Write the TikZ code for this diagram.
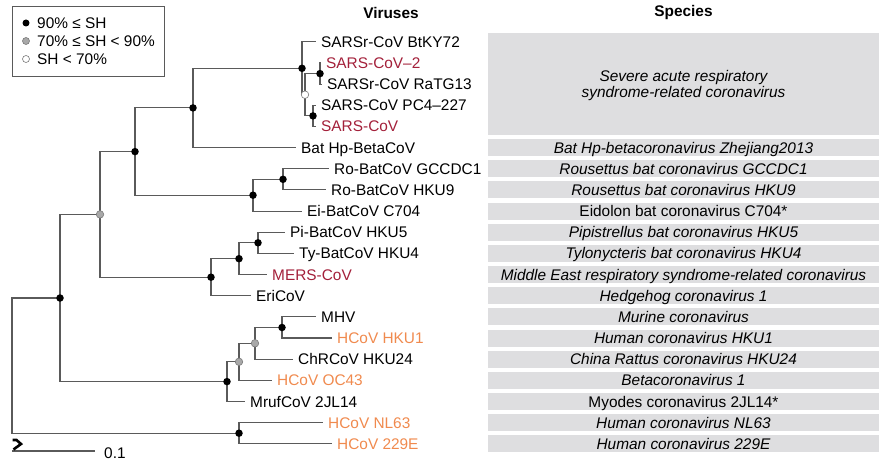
\documentclass[tikz,border=0pt]{standalone}
\usepackage{fontspec}
\setmainfont{Liberation Sans}
\usetikzlibrary{calc}
\definecolor{treeline}{HTML}{5A5A5A}
\definecolor{boxgray}{HTML}{DEDEE0}
\definecolor{sarsred}{HTML}{A3203A}
\definecolor{hcovorange}{HTML}{F08A4E}
\definecolor{midgray}{HTML}{A8A8A8}
\definecolor{rimgray}{HTML}{7A7A7A}
\tikzset{
  tree/.style={draw=treeline, line width=1.1pt},
  leaf/.style={anchor=west, inner sep=0pt, font=\fontsize{15.4}{18}\selectfont, text height=11pt, text depth=0pt},
  spbox/.style={fill=boxgray, minimum width=391pt, minimum height=17pt, inner sep=0pt, font=\fontsize{15.4}{18}\selectfont\itshape, text height=11pt, text depth=0pt},
  head/.style={font=\fontsize{15.4}{18}\selectfont\bfseries, inner sep=0pt},
  bdot/.style={circle, fill=black, inner sep=0pt, minimum size=7.5pt},
  gdot/.style={circle, fill=midgray, draw=rimgray, line width=0.6pt, inner sep=0pt, minimum size=7.5pt},
  wdot/.style={circle, fill=white, draw=rimgray, line width=0.6pt, inner sep=0pt, minimum size=7.5pt},
  legtext/.style={anchor=west, inner sep=0pt, font=\fontsize{15.4}{18}\selectfont, text height=11pt, text depth=0pt},
}
\begin{document}
\begin{tikzpicture}[x=1pt,y=-1pt]
\useasboundingbox (0,0) rectangle (892,468);

% headers
\node[head] (hv) at (391,13) {Viruses};
\node[head] (hs) at (683.5,13) {Species};

% species boxes
\node[spbox, minimum height=101.6pt] (s0) at (683.5,84.1) {\begin{tabular}{@{}c@{}}Severe acute respiratory\\[-2pt] syndrome-related coronavirus\end{tabular}};
\node[spbox] (s5) at (683.5,147.6) {Bat Hp-betacoronavirus Zhejiang2013};
\node[spbox] (s6) at (683.5,168.8) {Rousettus bat coronavirus GCCDC1};
\node[spbox] (s7) at (683.5,189.9) {Rousettus bat coronavirus HKU9};
\node[spbox, font=\fontsize{15.4}{18}\selectfont\upshape] (s8) at (683.5,211.1) {Eidolon bat coronavirus C704*};
\node[spbox] (s9) at (683.5,232.2) {Pipistrellus bat coronavirus HKU5};
\node[spbox] (s10) at (683.5,253.4) {Tylonycteris bat coronavirus HKU4};
\node[spbox] (s11) at (683.5,274.6) {Middle East respiratory syndrome-related coronavirus};
\node[spbox] (s12) at (683.5,295.7) {Hedgehog coronavirus 1};
\node[spbox] (s13) at (683.5,316.9) {Murine coronavirus};
\node[spbox] (s14) at (683.5,338.0) {Human coronavirus HKU1};
\node[spbox] (s15) at (683.5,359.2) {China Rattus coronavirus HKU24};
\node[spbox] (s16) at (683.5,380.4) {Betacoronavirus 1};
\node[spbox, font=\fontsize{15.4}{18}\selectfont\upshape] (s17) at (683.5,401.5) {Myodes coronavirus 2JL14*};
\node[spbox] (s18) at (683.5,422.7) {Human coronavirus NL63};
\node[spbox] (s19) at (683.5,443.8) {Human coronavirus 229E};

% internal nodes
\coordinate (nA) at (302,68.3);
\coordinate (nB) at (305,94.7);
\coordinate (nC) at (320,73.6);
\coordinate (nD) at (313,115.9);
\coordinate (nE) at (193,107.9);
\coordinate (nF) at (283,179.3);
\coordinate (nG) at (253,195.2);
\coordinate (nH) at (135,151.6);
\coordinate (nI) at (258,242.8);
\coordinate (nJ) at (239,258.7);
\coordinate (nK) at (211,277.2);
\coordinate (nL) at (100,214.4);
\coordinate (nM) at (282,327.5);
\coordinate (nN) at (255,343.3);
\coordinate (nO) at (239,361.8);
\coordinate (nP) at (227,381.6);
\coordinate (nQ) at (60,298);
\coordinate (nR) at (239,433.2);
\coordinate (nRoot) at (12,365.6);

% leaf ends
\coordinate (l0) at (316,41.8);
\coordinate (l1) at (321,63.0);
\coordinate (l2) at (322,84.1);
\coordinate (l3) at (316,105.3);
\coordinate (l4) at (316,126.4);
\coordinate (l5) at (296,147.6);
\coordinate (l6) at (329,168.8);
\coordinate (l7) at (326,189.9);
\coordinate (l8) at (302,211.1);
\coordinate (l9) at (285,232.2);
\coordinate (l10) at (294,253.4);
\coordinate (l11) at (267,274.6);
\coordinate (l12) at (251,295.7);
\coordinate (l13) at (316,316.9);
\coordinate (l14) at (332,338.0);
\coordinate (l15) at (293,359.2);
\coordinate (l16) at (272,380.4);
\coordinate (l17) at (245,401.5);
\coordinate (l18) at (323,422.7);
\coordinate (l19) at (332,443.8);

% branches
\draw[tree] (nA) |- (l0) (nA) |- (nB) (nB) |- (nC) (nB) |- (nD)
  (nC) |- (l1) (nC) |- (l2) (nD) |- (l3) (nD) |- (l4)
  (nE) |- (nA) (nE) |- (l5) (nH) |- (nE) (nH) |- (nG)
  (nG) |- (nF) (nG) |- (l8) (nF) |- (l6) (nF) |- (l7)
  (nL) |- (nH) (nL) |- (nK) (nK) |- (nJ) (nK) |- (l12)
  (nJ) |- (nI) (nJ) |- (l11) (nI) |- (l9) (nI) |- (l10)
  (nQ) |- (nL) (nQ) |- (nP) (nP) |- (nO) (nP) |- (l17)
  (nO) |- (nN) (nO) |- (l16) (nN) |- (nM) (nN) |- (l15)
  (nM) |- (l13) (nM) |- (l14)
  (nRoot) |- (nQ) (nRoot) |- (nR) (nR) |- (l18) (nR) |- (l19);

% support dots
\foreach \n in {nA,nC,nD,nE,nF,nG,nH,nI,nJ,nK,nM,nP,nQ,nR} \node[bdot] at (\n) {};
\foreach \n in {nL,nN,nO} \node[gdot] at (\n) {};
\node[wdot] at (nB) {};

% leaf labels
\node[leaf, xshift=5pt] (t0) at (l0) {SARSr-CoV BtKY72};
\node[leaf, xshift=5pt, text=sarsred] (t1) at (l1) {SARS-CoV–2};
\node[leaf, xshift=5pt] (t2) at (l2) {SARSr-CoV RaTG13};
\node[leaf, xshift=5pt] (t3) at (l3) {SARS-CoV PC4–227};
\node[leaf, xshift=5pt, text=sarsred] (t4) at (l4) {SARS-CoV};
\node[leaf, xshift=5pt] (t5) at (l5) {Bat Hp-BetaCoV};
\node[leaf, xshift=5pt] (t6) at (l6) {Ro-BatCoV GCCDC1};
\node[leaf, xshift=5pt] (t7) at (l7) {Ro-BatCoV HKU9};
\node[leaf, xshift=5pt] (t8) at (l8) {Ei-BatCoV C704};
\node[leaf, xshift=5pt] (t9) at (l9) {Pi-BatCoV HKU5};
\node[leaf, xshift=5pt] (t10) at (l10) {Ty-BatCoV HKU4};
\node[leaf, xshift=5pt, text=sarsred] (t11) at (l11) {MERS-CoV};
\node[leaf, xshift=5pt] (t12) at (l12) {EriCoV};
\node[leaf, xshift=5pt] (t13) at (l13) {MHV};
\node[leaf, xshift=5pt, text=hcovorange] (t14) at (l14) {HCoV HKU1};
\node[leaf, xshift=5pt] (t15) at (l15) {ChRCoV HKU24};
\node[leaf, xshift=5pt, text=hcovorange] (t16) at (l16) {HCoV OC43};
\node[leaf, xshift=5pt] (t17) at (l17) {MrufCoV 2JL14};
\node[leaf, xshift=5pt, text=hcovorange] (t18) at (l18) {HCoV NL63};
\node[leaf, xshift=5pt, text=hcovorange] (t19) at (l19) {HCoV 229E};

% legend
\node[draw=treeline, line width=0.8pt, minimum width=152pt, minimum height=70pt, anchor=north west, inner sep=0pt] (legend) at (12,6) {};
\node[bdot, minimum size=7pt] (ld1) at (26,23) {};
\node[gdot, minimum size=7pt] (ld2) at (26,41) {};
\node[wdot, minimum size=7pt] (ld3) at (26,59) {};
\node[legtext] (lt1) at (37,23) {90\% ≤ SH};
\node[legtext] (lt2) at (37,41) {70\% ≤ SH < 90\%};
\node[legtext] (lt3) at (37,59) {SH < 70\%};

% scale bar
\coordinate (sb0) at (12,451);
\coordinate (sb1) at (95,451);
\draw[draw=treeline, line width=1.1pt] (sb0) -- (sb1);
\node[legtext] (sbl) at (104,453) {0.1};
\coordinate (rk) at (12.5,440);
\draw[line width=2.6pt, line join=miter] (rk) -- ++(4,0) -- ++(4.5,4) -- ++(-7.5,5.5);
\end{tikzpicture}
\end{document}
